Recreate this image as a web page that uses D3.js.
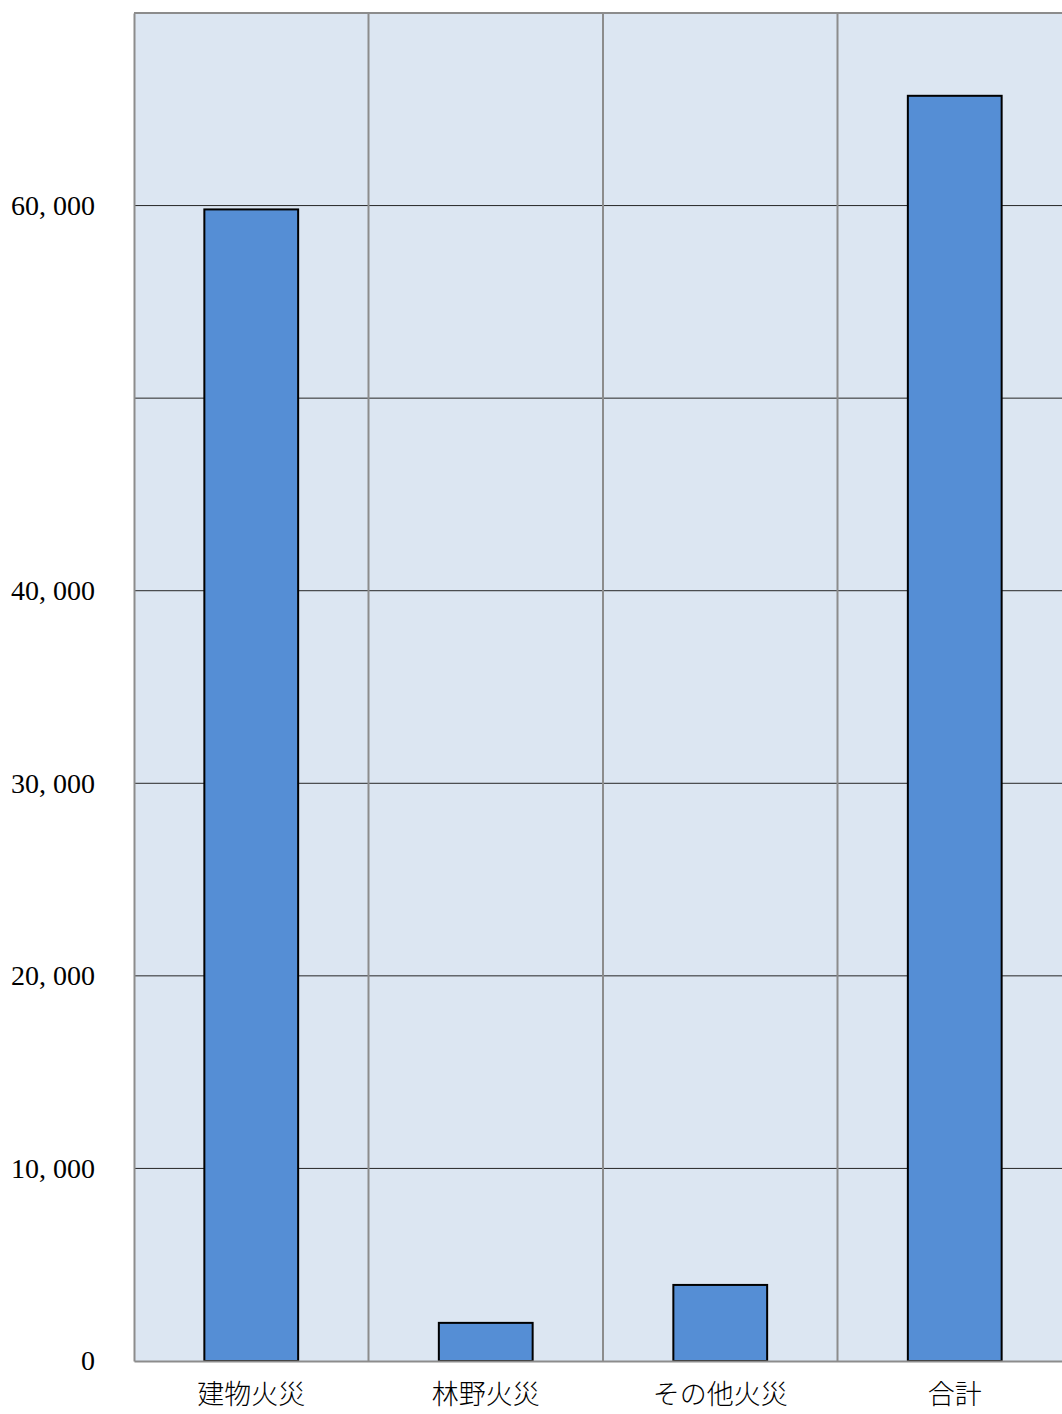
<!DOCTYPE html>
<html>
<head>
<meta charset="utf-8">
<script src="https://cdn.jsdelivr.net/npm/d3@7"></script>
<style>
  body { margin: 0; background: #fff; }
  svg { display: block; }
</style>
</head>
<body>
<div id="chart"></div>
<script>
// chart data
var categories = ["建物火災", "林野火災", "その他火災", "合計"];
var counts = [59800, 1980, 3950, 65700];
var tickValues = [0, 10000, 20000, 30000, 40000, 50000, 60000, 70000];
var tickLabels = ["0", "10, 000", "20, 000", "30, 000", "40, 000", "", "60, 000", ""];

var svgWidth = 1062;
var svgHeight = 1414;

var margin = { top: 13, right: -10, bottom: 53, left: 134 };

var width = svgWidth - margin.left - margin.right;
var height = svgHeight - margin.top - margin.bottom;

var svg = d3.select("#chart")
  .append("svg")
  .attr("width", svgWidth)
  .attr("height", svgHeight);

var chartGroup = svg.append("g")
  .attr("transform", `translate(${margin.left}, ${margin.top})`);

var xScale = d3.scaleBand()
  .domain(categories)
  .range([0, width])
  .paddingInner(0)
  .paddingOuter(0);

var yScale = d3.scaleLinear()
  .domain([0, 70000])
  .range([height, 0]);

// plot background
chartGroup.append("rect")
  .attr("width", width)
  .attr("height", height)
  .attr("fill", "#dce6f2");

// horizontal grid lines
chartGroup.selectAll(".hgrid")
  .data(tickValues.slice(1, -1))
  .enter()
  .append("line")
  .attr("x1", 0)
  .attr("x2", width)
  .attr("y1", d => yScale(d))
  .attr("y2", d => yScale(d))
  .attr("stroke", "#262626")
  .attr("stroke-width", 1);

// vertical grid lines at band edges
chartGroup.selectAll(".vgrid")
  .data(categories.slice(1))
  .enter()
  .append("line")
  .attr("x1", d => xScale(d))
  .attr("x2", d => xScale(d))
  .attr("y1", 0)
  .attr("y2", height)
  .attr("stroke", "#8c8c8c")
  .attr("stroke-width", 2);

// top border
chartGroup.append("line")
  .attr("x1", 0).attr("x2", width)
  .attr("y1", 0).attr("y2", 0)
  .attr("stroke", "#8c8c8c")
  .attr("stroke-width", 2);

// bars
var barWidth = xScale.bandwidth() * 0.4;
chartGroup.selectAll(".bar")
  .data(counts)
  .enter()
  .append("rect")
  .attr("x", (d, i) => xScale(categories[i]) + (xScale.bandwidth() - barWidth) / 2)
  .attr("y", d => yScale(d))
  .attr("width", barWidth)
  .attr("height", d => height - yScale(d))
  .attr("fill", "#558ed5")
  .attr("stroke", "#000")
  .attr("stroke-width", 2);

// axes
var leftAxis = d3.axisLeft(yScale)
  .tickValues(tickValues)
  .tickSize(0)
  .tickPadding(39)
  .tickFormat((d, i) => tickLabels[i]);

var bottomAxis = d3.axisBottom(xScale)
  .tickSize(0)
  .tickPadding(24);

var yAxisG = chartGroup.append("g").call(leftAxis);
var xAxisG = chartGroup.append("g")
  .attr("transform", `translate(0, ${height})`)
  .call(bottomAxis);

yAxisG.select(".domain").attr("stroke", "#8c8c8c").attr("stroke-width", 2);
xAxisG.select(".domain").attr("stroke", "#8c8c8c").attr("stroke-width", 2);

yAxisG.selectAll("text")
  .attr("font-family", "'Liberation Serif', 'Noto Sans CJK JP', serif")
  .attr("font-size", 28)
  .attr("fill", "#000");

xAxisG.selectAll("text")
  .attr("font-family", "'Noto Sans CJK JP', sans-serif")
  .attr("font-size", 27)
  .attr("font-weight", 300)
  .attr("fill", "#000");
</script>
</body>
</html>
